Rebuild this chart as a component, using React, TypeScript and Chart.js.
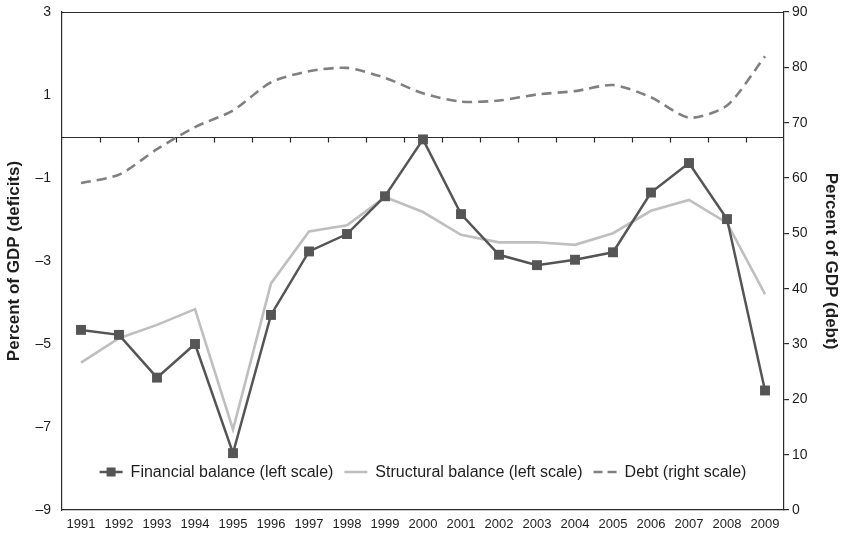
import React, { useEffect, useRef } from "react";
import { Chart, registerables } from "chart.js";

Chart.register(...registerables);

const years = [
  "1991", "1992", "1993", "1994", "1995", "1996", "1997", "1998", "1999", "2000",
  "2001", "2002", "2003", "2004", "2005", "2006", "2007", "2008", "2009",
];
const financialBalance = [
  -4.66, -4.78, -5.81, -5.0, -7.63, -4.3, -2.77, -2.35, -1.44, -0.07,
  -1.87, -2.85, -3.1, -2.97, -2.79, -1.35, -0.64, -1.99, -6.12,
];
const structuralBalance = [
  -5.45, -4.86, -4.54, -4.16, -7.06, -3.54, -2.29, -2.14, -1.46, -1.82,
  -2.37, -2.55, -2.55, -2.61, -2.33, -1.79, -1.53, -2.08, -3.8,
];
const debt = [
  59.1, 60.6, 65.2, 69.2, 72.2, 77.3, 79.3, 79.9, 78.1, 75.3,
  73.8, 74.0, 75.1, 75.7, 76.8, 74.6, 70.9, 73.1, 82.0,
];
const leftTicks = [-9, -7, -5, -3, -1, 1, 3];
const rightTicks = [0, 10, 20, 30, 40, 50, 60, 70, 80, 90];

const FONT = "'Liberation Sans', Arial, Helvetica, sans-serif";
const AXIS = "#2b2b2b";
const TEXT = "#1e1e1e";

const framePlugin = {
  id: "frameAndZero",
  beforeDatasetsDraw(chart: any) {
    const { ctx, chartArea: a, scales } = chart;
    const x = scales.x;
    const y = scales.yLeft;
    ctx.save();
    ctx.strokeStyle = AXIS;
    ctx.lineWidth = 1.2;
    ctx.beginPath();
    ctx.moveTo(a.left, a.top + 0.5);
    ctx.lineTo(a.right, a.top + 0.5);
    ctx.stroke();
    const y0 = Math.round(y.getPixelForValue(0)) + 0.5;
    ctx.beginPath();
    ctx.moveTo(a.left, y0);
    ctx.lineTo(a.right, y0);
    for (let i = 1; i < years.length; i++) {
      const bx = Math.round((x.getPixelForValue(i - 1) + x.getPixelForValue(i)) / 2) + 0.5;
      ctx.moveTo(bx, y0);
      ctx.lineTo(bx, y0 + 5);
    }
    ctx.stroke();
    ctx.restore();
  },
};

const legendPlugin = {
  id: "insideLegend",
  afterDatasetsDraw(chart: any) {
    const { ctx, chartArea: a } = chart;
    const ds = chart.data.datasets;
    ctx.save();
    ctx.font = `16px ${FONT}`;
    const sample = 23;
    const gapText = 8;
    const gapItem = 11;
    const widths = ds.map((d: any) => ctx.measureText(d.label).width);
    const total =
      widths.reduce((s: number, w: number) => s + sample + gapText + w, 0) + gapItem * (ds.length - 1);
    let x = (a.left + a.right) / 2 - total / 2;
    const y = a.bottom - 38;
    ds.forEach((d: any, i: number) => {
      ctx.strokeStyle = d.borderColor;
      ctx.lineWidth = d.borderWidth;
      ctx.setLineDash(d.borderDash ? [9, 5] : []);
      ctx.beginPath();
      ctx.moveTo(x, y);
      ctx.lineTo(x + sample, y);
      ctx.stroke();
      ctx.setLineDash([]);
      if (d.pointRadius > 0) {
        const s = 9;
        ctx.fillStyle = d.pointBackgroundColor;
        ctx.fillRect(x + sample / 2 - s / 2, y - s / 2, s, s);
      }
      ctx.fillStyle = TEXT;
      ctx.textBaseline = "middle";
      ctx.textAlign = "left";
      ctx.fillText(d.label, x + sample + gapText, y + 1);
      x += sample + gapText + widths[i] + gapItem;
    });
    ctx.restore();
  },
};

const fmt = (v: number) => (v < 0 ? "\u2013" + Math.abs(v) : String(v));

export default function App() {
  const ref = useRef<HTMLCanvasElement | null>(null);

  useEffect(() => {
    if (!ref.current) return;
    Chart.defaults.font.family = FONT;
    Chart.defaults.color = TEXT;
    const chart = new Chart(ref.current, {
      type: "line",
      data: {
        labels: years,
        datasets: [
          {
            label: "Financial balance (left scale)",
            data: financialBalance,
            yAxisID: "yLeft",
            borderColor: "#555555",
            backgroundColor: "#555555",
            borderWidth: 2.5,
            pointStyle: "rect",
            pointRadius: 7,
            pointBackgroundColor: "#555555",
            pointBorderColor: "#555555",
            pointBorderWidth: 0,
            tension: 0,
          },
          {
            label: "Structural balance (left scale)",
            data: structuralBalance,
            yAxisID: "yLeft",
            borderColor: "#bfbfbf",
            backgroundColor: "#bfbfbf",
            borderWidth: 2.6,
            pointRadius: 0,
            tension: 0,
          },
          {
            label: "Debt (right scale)",
            data: debt,
            yAxisID: "yRight",
            borderColor: "#808080",
            backgroundColor: "#808080",
            borderWidth: 2.6,
            borderDash: [10, 6],
            pointRadius: 0,
            tension: 0.25,
          },
        ],
      },
      options: {
        responsive: false,
        animation: false,
        layout: { padding: { top: 12, left: 0, right: 0, bottom: 0 } },
        plugins: { legend: { display: false }, tooltip: { enabled: false } },
        scales: {
          x: {
            type: "category",
            offset: true,
            grid: { display: false, drawTicks: false },
            border: { display: true, color: AXIS, width: 1.2 },
            ticks: { autoSkip: false, maxRotation: 0, minRotation: 0, padding: 7, color: TEXT, font: { size: 13 } },
            afterFit: (s: any) => {
              s.height = 28;
              s.paddingLeft = 0;
              s.paddingRight = 0;
            },
          },
          yLeft: {
            type: "linear",
            position: "left",
            min: -9,
            max: 3,
            grid: { display: false, drawTicks: false },
            border: { display: true, color: AXIS, width: 1.2 },
            ticks: { padding: 11, color: TEXT, font: { size: 14 }, callback: (v: any) => fmt(Number(v)) },
            afterBuildTicks: (s: any) => {
              s.ticks = leftTicks.map((v) => ({ value: v }));
            },
            afterFit: (s: any) => {
              s.width = 62;
              s.paddingTop = 0;
              s.paddingBottom = 0;
            },
            title: {
              display: true,
              text: "Percent of GDP (deficits)",
              color: TEXT,
              font: { size: 17, weight: "bold" },
              padding: { top: 4, bottom: 0 },
            },
          },
          yRight: {
            type: "linear",
            position: "right",
            min: 0,
            max: 90,
            grid: { display: true, drawOnChartArea: false, drawTicks: true, tickLength: 5, color: AXIS, lineWidth: 1.2 },
            border: { display: true, color: AXIS, width: 1.2 },
            ticks: { padding: 3, color: TEXT, font: { size: 14 } },
            afterBuildTicks: (s: any) => {
              s.ticks = rightTicks.map((v) => ({ value: v }));
            },
            afterFit: (s: any) => {
              s.width = 61;
              s.paddingTop = 0;
              s.paddingBottom = 0;
            },
            title: {
              display: true,
              text: "Percent of GDP (debt)",
              color: TEXT,
              font: { size: 17, weight: "bold" },
              padding: { top: 4, bottom: 0 },
            },
          },
        },
      } as any,
      plugins: [framePlugin, legendPlugin],
    });
    return () => chart.destroy();
  }, []);

  return (
    <div style={{ position: "fixed", left: 0, top: 0, width: 845, height: 538, background: "#fff" }}>
      <canvas ref={ref} width={845} height={538} />
    </div>
  );
}
